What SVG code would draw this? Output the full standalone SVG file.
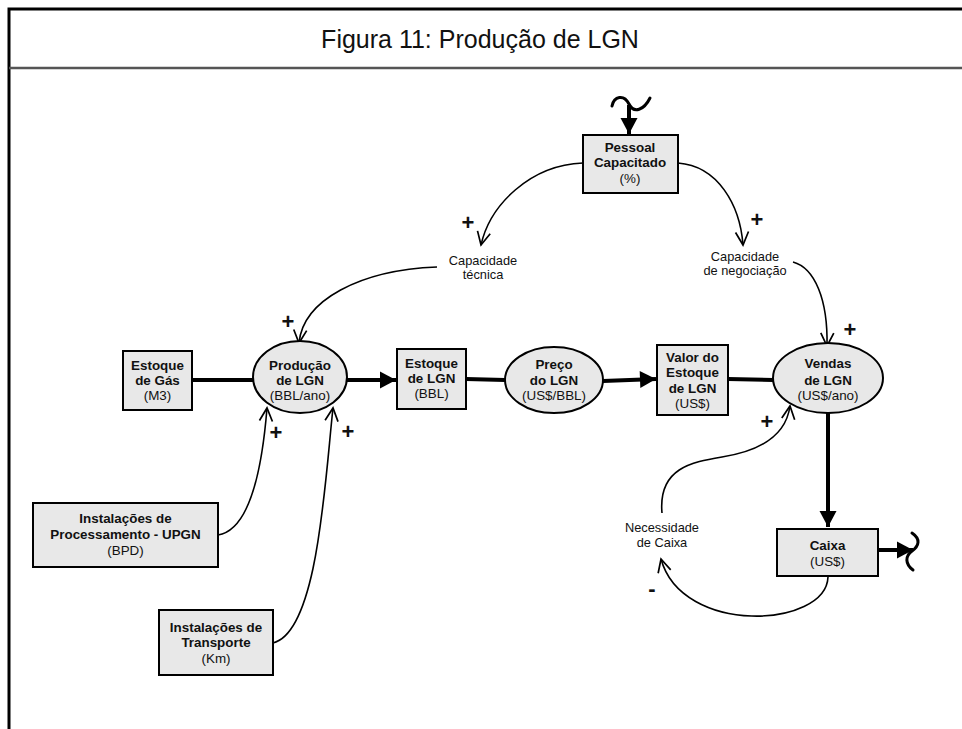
<svg xmlns="http://www.w3.org/2000/svg" width="962" height="729" viewBox="0 0 962 729">
  <style>
    .frame { stroke: #000; stroke-width: 3; fill: none; }
    .sep { stroke: #555; stroke-width: 2.5; fill: none; }
    .title { font-family: "Liberation Sans", Arial, sans-serif; font-size: 25px; fill: #111; text-anchor: middle; }
    .stock { fill: #e8e8e8; stroke: #000; stroke-width: 2; }
    .aux { fill: #e8e8e8; stroke: #000; stroke-width: 2; }
    .name { font-family: "Liberation Sans", Arial, sans-serif; font-size: 13.4px; font-weight: bold; fill: #111; text-anchor: middle; }
    .unit { font-family: "Liberation Sans", Arial, sans-serif; font-size: 13.4px; fill: #111; text-anchor: middle; }
    .lbl { font-family: "Liberation Sans", Arial, sans-serif; font-size: 12.8px; fill: #111; text-anchor: middle; }
    .sign { font-family: "Liberation Sans", Arial, sans-serif; font-size: 22px; font-weight: bold; fill: #111; text-anchor: middle; }
    .flow { stroke: #000; stroke-width: 4; fill: none; }
    .link { stroke: #000; stroke-width: 1.6; fill: none; marker-end: url(#open); }
    .cloud { stroke: #000; stroke-width: 3; fill: none; stroke-linecap: round; }
  </style>
  <defs>
    <marker id="open" markerUnits="userSpaceOnUse" markerWidth="18" markerHeight="18" viewBox="-15 -9 18 18" refX="0" refY="0" orient="auto">
      <path d="M-13,-6.5 L0,0 L-13,6.5" fill="none" stroke="#000" stroke-width="1.7"/>
    </marker>
    <marker id="solid" markerUnits="userSpaceOnUse" markerWidth="20" markerHeight="20" viewBox="-17 -10 20 20" refX="0" refY="0" orient="auto">
      <path d="M-16,-8.5 L0,0 L-16,8.5 Z" fill="#000"/>
    </marker>
  </defs>

  <rect width="962" height="729" fill="#fff"/>

  <!-- page frame and title band -->
  <g id="frame">
    <path class="frame" d="M9,729 V9 H962"/>
    <line class="sep" x1="9" y1="68" x2="962" y2="68"/>
    <text class="title" x="480" y="48">Figura 11: Produção de LGN</text>
  </g>

  <!-- connectors -->
  <g id="connectors">
    <!-- material flows -->
    <line class="flow" x1="192" y1="380" x2="253" y2="380"/>
    <line class="flow" x1="347" y1="380" x2="396" y2="380" marker-end="url(#solid)"/>
    <line class="flow" x1="466" y1="379" x2="505" y2="380"/>
    <line class="flow" x1="603" y1="381" x2="656" y2="379" marker-end="url(#solid)"/>
    <line class="flow" x1="728" y1="379" x2="773" y2="380"/>
    <line class="flow" x1="828" y1="413" x2="828" y2="527" marker-end="url(#solid)"/>
    <line class="flow" x1="878" y1="550" x2="913" y2="550" marker-end="url(#solid)"/>
    <line class="flow" x1="629" y1="105" x2="629" y2="134" marker-end="url(#solid)"/>

    <!-- sources / sinks -->
    <path class="cloud" d="M612,106 C614,96 624,94 629,104 C634,114 644,110 650,98"/>
    <path class="cloud" d="M912,533 C921,539 919,546 912,551 C905,556 905,564 913,570"/>

    <!-- causal links -->
    <path class="link" d="M583,163 C530,165 490,205 481,245"/>
    <path class="link" d="M678,163 C718,166 740,205 743,245"/>
    <path class="link" d="M437,267 C360,270 303,300 299,343"/>
    <path class="link" d="M793,262 C815,268 828,300 827,346"/>
    <path class="link" d="M218,535 C250,530 262,470 267,408"/>
    <path class="link" d="M273,643 C318,632 325,480 333,408"/>
    <path class="link" d="M828,577 C826,628 682,636 661,559"/>
    <path class="link" d="M662,513 C658,468 692,462 722,457 C760,451 786,435 790,406"/>
  </g>

  <!-- polarity signs -->
  <g id="signs">
    <text class="sign" x="468" y="230">+</text>
    <text class="sign" x="757" y="227">+</text>
    <text class="sign" x="288" y="329">+</text>
    <text class="sign" x="850" y="337">+</text>
    <text class="sign" x="276" y="440">+</text>
    <text class="sign" x="348" y="439">+</text>
    <text class="sign" x="767" y="429">+</text>
    <text class="sign" x="652" y="596">-</text>
  </g>

  <g id="pessoal-capacitado">
    <rect class="stock" x="583" y="135" width="95" height="58"/>
    <text class="name" x="630" y="152">Pessoal</text>
    <text class="name" x="630" y="167">Capacitado</text>
    <text class="unit" x="630" y="183">(%)</text>
  </g>

  <g id="capacidade-tecnica">
    <text class="lbl" x="483" y="265">Capacidade</text>
    <text class="lbl" x="483" y="279">técnica</text>
  </g>

  <g id="capacidade-negociacao">
    <text class="lbl" x="745" y="261">Capacidade</text>
    <text class="lbl" x="745" y="275">de negociação</text>
  </g>

  <g id="estoque-gas">
    <rect class="stock" x="123" y="351" width="69" height="59"/>
    <text class="name" x="157.5" y="370">Estoque</text>
    <text class="name" x="157.5" y="385">de Gás</text>
    <text class="unit" x="157.5" y="400">(M3)</text>
  </g>

  <g id="producao-lgn">
    <ellipse class="aux" cx="300" cy="377" rx="47" ry="36"/>
    <text class="name" x="300" y="370">Produção</text>
    <text class="name" x="300" y="385">de LGN</text>
    <text class="unit" x="300" y="400">(BBL/ano)</text>
  </g>

  <g id="estoque-lgn">
    <rect class="stock" x="397" y="349" width="69" height="60"/>
    <text class="name" x="431.5" y="368">Estoque</text>
    <text class="name" x="431.5" y="383">de LGN</text>
    <text class="unit" x="431.5" y="398">(BBL)</text>
  </g>

  <g id="preco-lgn">
    <ellipse class="aux" cx="554" cy="380" rx="49" ry="33"/>
    <text class="name" x="554" y="369">Preço</text>
    <text class="name" x="554" y="385">do LGN</text>
    <text class="unit" x="554" y="400">(US$/BBL)</text>
  </g>

  <g id="valor-estoque">
    <rect class="stock" x="657" y="345" width="71" height="70"/>
    <text class="name" x="692.5" y="362">Valor do</text>
    <text class="name" x="692.5" y="377">Estoque</text>
    <text class="name" x="692.5" y="393">de LGN</text>
    <text class="unit" x="692.5" y="408">(US$)</text>
  </g>

  <g id="vendas-lgn">
    <ellipse class="aux" cx="828" cy="378" rx="55" ry="35"/>
    <text class="name" x="828" y="368">Vendas</text>
    <text class="name" x="828" y="385">de LGN</text>
    <text class="unit" x="828" y="400">(US$/ano)</text>
  </g>

  <g id="caixa">
    <rect class="stock" x="777" y="529" width="101" height="47"/>
    <text class="name" x="827.5" y="550">Caixa</text>
    <text class="unit" x="827.5" y="566">(US$)</text>
  </g>

  <g id="necessidade-caixa">
    <text class="lbl" x="662" y="532">Necessidade</text>
    <text class="lbl" x="662" y="547">de Caixa</text>
  </g>

  <g id="instalacoes-upgn">
    <rect class="stock" x="33" y="503" width="185" height="64"/>
    <text class="name" x="125.5" y="523">Instalações de</text>
    <text class="name" x="125.5" y="539">Processamento - UPGN</text>
    <text class="unit" x="125.5" y="555">(BPD)</text>
  </g>

  <g id="instalacoes-transporte">
    <rect class="stock" x="159" y="610" width="114" height="65"/>
    <text class="name" x="216" y="632">Instalações de</text>
    <text class="name" x="216" y="647">Transporte</text>
    <text class="unit" x="216" y="663">(Km)</text>
  </g>
</svg>
